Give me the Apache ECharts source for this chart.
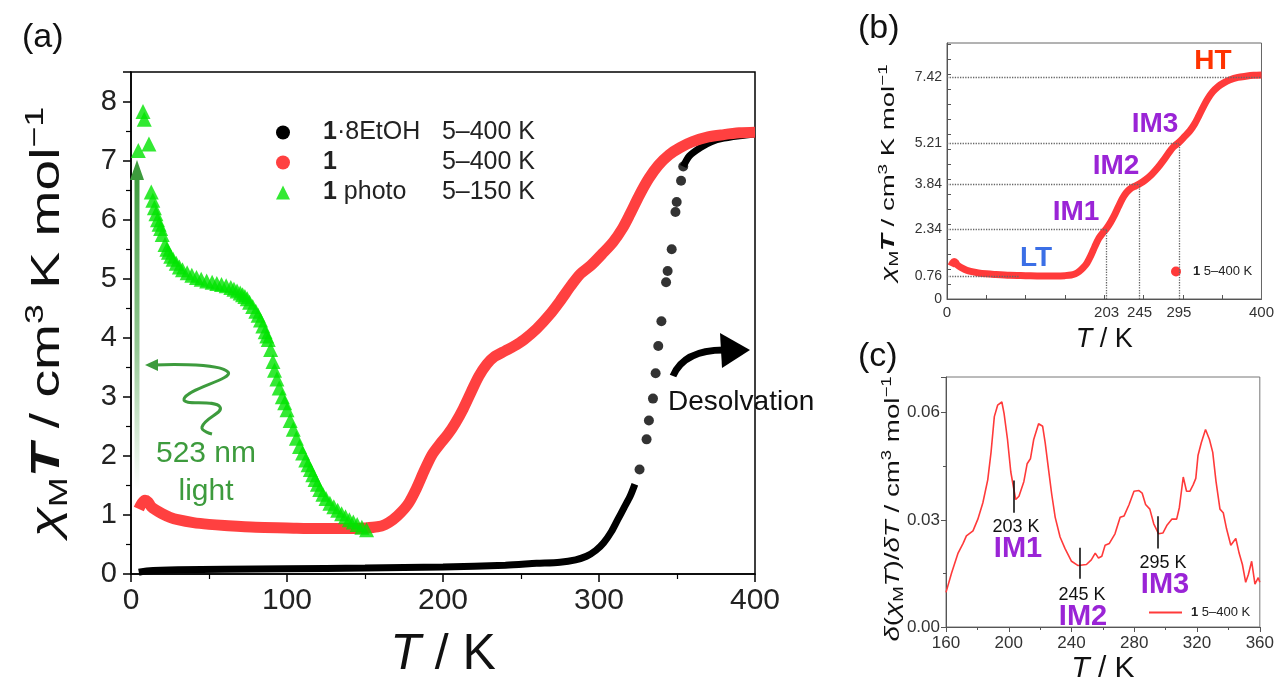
<!DOCTYPE html>
<html>
<head>
<meta charset="utf-8">
<script src="https://cdn.jsdelivr.net/npm/echarts@6.0.0/dist/echarts.min.js"></script>
<style>
html,body{margin:0;padding:0;background:#fff;}
#chart{width:1277px;height:685px;}
</style>
</head>
<body>
<div id="chart"></div>
<script>
// ---------------- DATA ----------------
// Panel (a): 1·8EtOH (black) dense band, steep dots, and top
const blackBand = [[5,0.03],[10,0.05],[30,0.07],[60,0.08],[100,0.09],[150,0.10],[200,0.12],[240,0.15],[260,0.18],[275,0.20],[285,0.24],[292,0.30],[298,0.40],[303,0.53],[308,0.72],[312,0.92],[316,1.12],[320,1.32],[323,1.52]];
const blackDots = [[326,1.77],[330.5,2.28],[332,2.60],[334.6,2.97],[336.3,3.40],[338,3.86],[340,4.28],[343,4.94],[344,5.13],[346.6,5.50],[349,6.13],[349.8,6.30],[352.6,6.66],[354,6.90]];
const blackTop = [[354,6.90],[358,7.08],[365,7.22],[372,7.32],[380,7.38],[390,7.42],[400,7.45]];
// Panel (a)/(b): compound 1, 5–400 K (red)
const redData = [[5,1.10],[7,1.20],[9,1.25],[11,1.22],[13,1.14],[16,1.08],[20,1.02],[25,0.96],[30,0.92],[40,0.87],[50,0.84],[60,0.82],[80,0.79],[100,0.78],[120,0.77],[140,0.77],[150,0.78],[158,0.80],[163,0.84],[168,0.92],[173,1.04],[178,1.20],[183,1.45],[188,1.75],[193,2.02],[198,2.20],[203,2.36],[208,2.56],[213,2.80],[218,3.08],[223,3.35],[228,3.55],[233,3.68],[240,3.78],[245,3.85],[252,3.97],[260,4.15],[268,4.38],[275,4.62],[282,4.88],[288,5.08],[295,5.23],[302,5.42],[309,5.62],[315,5.85],[320,6.10],[326,6.42],[332,6.70],[338,6.92],[345,7.10],[352,7.22],[360,7.32],[370,7.40],[380,7.44],[390,7.47],[400,7.48]];
// Panel (a): 1 photo, 5–150 K (green)
const greenData = [[4.7,7.17],[7.7,7.83],[8.5,7.70],[11.5,7.28],[13,6.47],[14,6.33],[15,6.20],[16,6.10],[17,6.00],[18,5.92],[19,5.85],[20,5.75],[21.8,5.58],[23,5.50],[24,5.45],[25.5,5.38],[27,5.33],[29,5.26],[31,5.20],[33,5.15],[36,5.10],[39,5.06],[42,5.02],[45,4.99],[48.5,4.96],[52,4.94],[55,4.92],[58,4.90],[61,4.88],[64,4.85],[66,4.82],[68,4.79],[70,4.76],[71.5,4.73],[73,4.70],[74.5,4.66],[76,4.60],[78,4.53],[80,4.45],[81.5,4.38],[83,4.30],[84.5,4.20],[86,4.10],[87,4.03],[88,3.97],[89.5,3.80],[91,3.60],[92,3.45],[93.5,3.30],[95,3.15],[97,3.00],[98.5,2.90],[100,2.78],[102,2.60],[104,2.45],[106,2.30],[108,2.16],[110,2.05],[112,1.93],[113.5,1.85],[115,1.77],[116.5,1.68],[118,1.60],[119.5,1.52],[121,1.43],[123,1.35],[125,1.28],[127.5,1.20],[130,1.14],[132.5,1.08],[135,1.02],[137.5,0.97],[140,0.92],[142.5,0.88],[145,0.84],[148,0.79],[151,0.75]];
// Panel (b): tick labels and marked transition points
const bXLabels = [0,203,245,295,400];
const bYLabels = [0,0.76,2.34,3.84,5.21,7.42];
const bMarkT = [203,245,295];
const bMarkV = [2.34,3.84,5.21];
const bLT = 0.76, bHT = 7.42;
// Panel (c): derivative d(chiT)/dT
const derivData = [[160,0.0097],[163.6,0.0152],[167.7,0.0207],[170.9,0.0234],[173,0.0255],[177.2,0.0269],[180.3,0.0302],[183.5,0.0348],[186.6,0.0412],[188.7,0.0489],[190.8,0.0589],[192.9,0.0621],[195.6,0.0630],[197,0.0598],[199.2,0.0525],[201.3,0.0434],[204.4,0.0357],[206.5,0.0366],[209.6,0.0407],[211.7,0.0457],[213.8,0.0471],[215.9,0.0525],[219,0.0569],[221.6,0.0562],[223.2,0.0516],[225.3,0.0443],[227.4,0.0371],[229.6,0.0307],[232.7,0.0252],[235.8,0.0220],[240,0.0184],[244.2,0.0172],[249.5,0.0175],[252.6,0.0188],[255.1,0.0207],[257.2,0.0193],[259.3,0.0198],[261.4,0.0229],[264.1,0.0234],[267.7,0.0261],[271,0.0307],[273.5,0.0311],[276.7,0.0343],[279.8,0.0380],[283,0.0382],[285,0.0375],[287.2,0.0343],[289.9,0.0330],[292.4,0.0289],[295.5,0.0261],[298.2,0.0263],[300.7,0.0284],[303.9,0.0302],[307,0.0302],[308.7,0.0334],[311.2,0.0420],[313.3,0.0380],[315.4,0.0380],[317.5,0.0398],[319.2,0.0416],[320.6,0.0480],[322.7,0.0516],[325.4,0.0553],[327.9,0.0525],[330,0.0489],[332.1,0.0407],[334.6,0.0330],[336.7,0.0320],[338.8,0.0275],[341.5,0.0229],[344.7,0.0248],[346.8,0.0207],[348.9,0.0175],[351,0.0125],[352.7,0.0147],[354.8,0.0184],[356.9,0.0120],[359,0.0138],[360,0.0125]];
const cMarkT = [203,245,295];
const cMarkLo = [0.032,0.0135,0.022];
const cMarkHi = [0.041,0.0222,0.031];

// ---------------- STYLE ----------------
const FONT = "'Liberation Sans', Arial, sans-serif";
const PURPLE = '#9a24d6';
const DKGREEN = '#3d9b3d';

const chart = echarts.init(document.getElementById('chart'), null, {renderer:'canvas'});

function axisCommon(color, w){
  return {
    axisLine:{show:true, onZero:false, lineStyle:{color:color, width:w}},
    splitLine:{show:false}
  };
}

const bHMarks = bMarkT.map((t,i)=>[{coord:[0,bMarkV[i]]},{coord:[t,bMarkV[i]]}]);
const bVMarks = bMarkT.map((t,i)=>[{coord:[t,0]},{coord:[t,bMarkV[i]]}]);
bHMarks.push([{coord:[0,bHT]},{coord:[400,bHT]}]);
bHMarks.push([{coord:[0,bLT]},{coord:[92,bLT]}]);
const cTicks = cMarkT.map((t,i)=>[{coord:[t,cMarkLo[i]]},{coord:[t,cMarkHi[i]]}]);

const halfSteps = []; for(let v=0.5; v<=8.5; v+=0.5) halfSteps.push(+v.toFixed(1));

function yName(text, rich, x, y, scale){
  return {type:'text', x:x, y:y, rotation:Math.PI/2, scaleX:scale, z:100,
    style:{text:text, rich:rich, fill:'#111', fontFamily:FONT, align:'center', verticalAlign:'middle'}};
}
function mkRich(f, fs){
  return {
    n:{fontSize:f, fontFamily:FONT, lineHeight:f*1.25},
    i:{fontSize:f, fontStyle:'italic', fontFamily:FONT, lineHeight:f*1.25},
    ib:{fontSize:f, fontStyle:'italic', fontWeight:'bold', fontFamily:FONT, lineHeight:f*1.25},
    s:{fontSize:fs, fontFamily:FONT, verticalAlign:'bottom', lineHeight:fs},
    p:{fontSize:fs, fontFamily:FONT, verticalAlign:'top', lineHeight:fs}
  };
}
function txt(t, x, y, size, color, weight, align){
  return {type:'text', x:x, y:y, z:100, style:{text:t, fill:color, fontSize:size, fontFamily:FONT, fontWeight:weight||'normal', align:align||'center', verticalAlign:'middle'}};
}

const option = {
  backgroundColor:'#fff',
  animation:false,
  grid:[
    {left:131, top:72, right:522, bottom:111, show:true, borderColor:'#000', borderWidth:1.5, backgroundColor:'transparent'},
    {left:947, top:43, right:13, bottom:386, show:true, borderColor:'#666', borderWidth:1, backgroundColor:'transparent'},
    {left:946, top:377, right:13, bottom:53, show:true, borderColor:'#777', borderWidth:1, backgroundColor:'transparent'}
  ],
  xAxis:[
    Object.assign({gridIndex:0, type:'value', min:0, max:400, interval:100,
      axisTick:{show:true, inside:false, length:8, lineStyle:{color:'#000', width:1.5}},
      minorTick:{show:true, splitNumber:2, length:5, lineStyle:{color:'#000', width:1.2}},
      axisLabel:{fontSize:30, color:'#222', margin:12, fontFamily:FONT},
      name:'{i|T}{n| / K}', nameLocation:'middle', nameGap:56,
      nameTextStyle:{color:'#111', rich:{i:{fontSize:50, fontStyle:'italic', fontFamily:FONT}, n:{fontSize:50, fontFamily:FONT}}}
    }, axisCommon('#000',1.5)),
    Object.assign({gridIndex:1, type:'value', min:0, max:400,
      axisTick:{show:true, inside:true, length:4, customValues:[50,100,150,200,250,300,350], lineStyle:{color:'#555'}},
      axisLabel:{fontSize:15, color:'#333', margin:6, fontFamily:FONT, customValues:bXLabels},
      name:'{i|T}{n| / K}', nameLocation:'middle', nameGap:27,
      nameTextStyle:{color:'#111', rich:{i:{fontSize:27, fontStyle:'italic', fontFamily:FONT}, n:{fontSize:27, fontFamily:FONT}}}
    }, axisCommon('#555',1)),
    Object.assign({gridIndex:2, type:'value', min:160, max:360, interval:40,
      axisTick:{show:true, inside:false, length:5, lineStyle:{color:'#555'}},
      minorTick:{show:true, splitNumber:2, length:3, lineStyle:{color:'#555'}},
      axisLabel:{fontSize:17, color:'#333', margin:8, fontFamily:FONT},
      name:'{i|T}{n| / K}', nameLocation:'middle', nameGap:27,
      nameTextStyle:{color:'#111', rich:{i:{fontSize:30, fontStyle:'italic', fontFamily:FONT}, n:{fontSize:30, fontFamily:FONT}}}
    }, axisCommon('#555',1))
  ],
  yAxis:[
    Object.assign({gridIndex:0, type:'value', min:0, max:8.5, interval:1,
      axisTick:{show:true, inside:false, length:8, lineStyle:{color:'#000', width:1.5}},
      minorTick:{show:true, splitNumber:2, length:5, lineStyle:{color:'#000', width:1.2}},
      axisLabel:{fontSize:29, color:'#222', margin:14, fontFamily:FONT, showMaxLabel:false}
    }, axisCommon('#000',1.5)),
    Object.assign({gridIndex:1, type:'value', min:0, max:8.55,
      axisTick:{show:true, inside:true, length:4, customValues:halfSteps, lineStyle:{color:'#555'}},
      axisLabel:{fontSize:14, color:'#333', margin:5, fontFamily:FONT, customValues:bYLabels}
    }, axisCommon('#555',1)),
    Object.assign({gridIndex:2, type:'value', min:0, max:0.07, interval:0.03,
      axisTick:{show:true, inside:false, length:5, lineStyle:{color:'#555'}},
      minorTick:{show:true, splitNumber:2, length:3, lineStyle:{color:'#555'}},
      axisLabel:{fontSize:17, color:'#333', margin:6, fontFamily:FONT, showMaxLabel:false, formatter:v=>v.toFixed(2)}
    }, axisCommon('#555',1))
  ],
  legend:[
    {left:271, top:115, orient:'vertical', itemGap:5, itemWidth:14, itemHeight:14, selectedMode:false,
      data:[{name:'1·8EtOH', icon:'circle'},{name:'1', icon:'circle'},{name:'1 photo', icon:'triangle'}],
      formatter:function(n){
        if(n==='1·8EtOH') return '{b|1}{n|·8EtOH}{r|5–400 K}';
        if(n==='1') return '{b|1}{n|}{r|5–400 K}';
        return '{b|1}{n| photo}{r|5–150 K}';
      },
      textStyle:{fontFamily:FONT, fontSize:25, color:'#222', rich:{
        b:{fontWeight:'bold', fontSize:25, fontFamily:FONT, padding:[0,0,0,28], lineHeight:30},
        n:{fontSize:25, fontFamily:FONT, width:105, lineHeight:30},
        r:{fontSize:25, fontFamily:FONT, lineHeight:30}}}
    },
    {left:1166, top:260, itemWidth:10, itemHeight:10, selectedMode:false,
      data:[{name:'1 (b)', icon:'circle'}],
      formatter:()=> '{b|1}{r| 5–400 K}',
      textStyle:{fontFamily:FONT, fontSize:13, color:'#222', rich:{b:{fontWeight:'bold', fontSize:13, padding:[0,0,0,7]}, r:{fontSize:13}}}
    },
    {left:1144, top:601, itemWidth:33, itemHeight:2, selectedMode:false,
      data:[{name:'1 (c)', icon:'rect'}],
      formatter:()=> '{b|1}{r| 5–400 K}',
      textStyle:{fontFamily:FONT, fontSize:13, color:'#222', rich:{b:{fontWeight:'bold', fontSize:13, padding:[0,0,0,4]}, r:{fontSize:13}}}
    }
  ],
  series:[
    {name:'1·8EtOH', type:'line', xAxisIndex:0, yAxisIndex:0, data:blackBand, symbol:'none', smooth:0.3,
      lineStyle:{color:'#000', width:7}, itemStyle:{color:'#000'}, z:2},
    {name:'1·8EtOH', type:'scatter', xAxisIndex:0, yAxisIndex:0, data:blackDots, symbol:'circle', symbolSize:10,
      itemStyle:{color:'#000'}, z:2},
    {name:'1·8EtOH', type:'line', xAxisIndex:0, yAxisIndex:0, data:blackTop, symbol:'none', smooth:0.3,
      lineStyle:{color:'#000', width:7}, itemStyle:{color:'#000'}, z:2},
    {name:'1', type:'line', xAxisIndex:0, yAxisIndex:0, data:redData, symbol:'none', smooth:0.3,
      lineStyle:{color:'#ff4040', width:11}, itemStyle:{color:'#ff4040'}, z:3},
    {name:'1 photo', type:'scatter', xAxisIndex:0, yAxisIndex:0, data:greenData, symbol:'triangle', symbolSize:15,
      itemStyle:{color:'#00e400'}, z:4},
    {name:'1 (b)', type:'line', xAxisIndex:1, yAxisIndex:1, data:redData, symbol:'none', smooth:0.3,
      lineStyle:{color:'#ff3a3a', width:7}, itemStyle:{color:'#ff3a3a'}, z:3,
      markLine:{silent:true, symbol:'none', label:{show:false},
        lineStyle:{color:'#666', type:'dotted', width:1.3},
        data:bHMarks.concat(bVMarks)}},
    {name:'1 (c)', type:'line', xAxisIndex:2, yAxisIndex:2, data:derivData, symbol:'none', showSymbol:false,
      lineStyle:{color:'#ff3a3a', width:1.6}, itemStyle:{color:'#ff3a3a'}, z:3,
      markLine:{silent:true, symbol:'none', label:{show:false},
        lineStyle:{color:'#111', type:'solid', width:1.6},
        data:cTicks}}
  ],
  graphic:[
    txt('(a)', 22, 38, 34, '#111', 'normal', 'left'),
    txt('(b)', 858, 29, 34, '#111', 'normal', 'left'),
    txt('(c)', 858, 357, 34, '#111', 'normal', 'left'),
    yName('{i|χ}{s|M}{ib|T}{n| / cm}{p|3}{n| K mol}{p|−1}', mkRich(40,26), 48, 322, 1.38),
    yName('{i|χ}{s|M}{ib|T}{n| / cm}{p|3}{n| K mol}{p|−1}', mkRich(19,13), 889, 173, 1.45),
    yName('{i|δ}{n|(}{i|χ}{s|M}{i|T}{n|)/}{i|δT}{n| / cm}{p|3}{n| mol}{p|−1}', mkRich(21,14), 893, 509, 1.32),
    // green excitation arrow
    {type:'rect', z:50, shape:{x:134.5, y:176, width:5, height:314},
      style:{fill:{type:'linear', x:0, y:0, x2:0, y2:1, colorStops:[{offset:0,color:'rgba(61,155,61,1)'},{offset:0.55,color:'rgba(61,155,61,0.55)'},{offset:1,color:'rgba(61,155,61,0)'}]}}},
    {type:'polygon', z:50, shape:{points:[[137,160],[130,180],[144,180]]}, style:{fill:DKGREEN}},
    // wavy light arrow
    {type:'polyline', z:50, shape:{points:[[154,365],[228,372],[184,399],[220,407],[202,427],[212,434]], smooth:0.5},
      style:{stroke:DKGREEN, lineWidth:3, fill:null}},
    {type:'polygon', z:50, shape:{points:[[145,365],[158,359],[158,371]]}, style:{fill:DKGREEN}},
    txt('523 nm', 206, 454, 30, DKGREEN),
    txt('light', 206, 492, 30, DKGREEN),
    // desolvation arrow
    {type:'bezierCurve', z:50, shape:{x1:673, y1:376, cpx1:684, cpy1:350, x2:724, y2:350},
      style:{stroke:'#000', lineWidth:7, fill:null}},
    {type:'polygon', z:50, shape:{points:[[750,350],[720,333],[722,368]]}, style:{fill:'#000'}},
    txt('Desolvation', 668, 402, 28, '#111', 'normal', 'left'),
    // panel (b) state labels
    txt('HT', 1213, 61, 28, '#ff3300', 'bold'),
    txt('IM3', 1155, 124, 28, PURPLE, 'bold'),
    txt('IM2', 1116, 166, 28, PURPLE, 'bold'),
    txt('IM1', 1076, 212, 28, PURPLE, 'bold'),
    txt('LT', 1036, 258, 28, '#3b6fe6', 'bold'),
    // panel (c) labels
    txt('203 K', 1016, 527, 18, '#111'),
    txt('IM1', 1018, 549, 29, PURPLE, 'bold'),
    txt('245 K', 1082, 595, 18, '#111'),
    txt('IM2', 1083, 617, 29, PURPLE, 'bold'),
    txt('295 K', 1163, 563, 18, '#111'),
    txt('IM3', 1165, 585, 29, PURPLE, 'bold')
  ]
};
chart.setOption(option);
</script>
</body>
</html>
